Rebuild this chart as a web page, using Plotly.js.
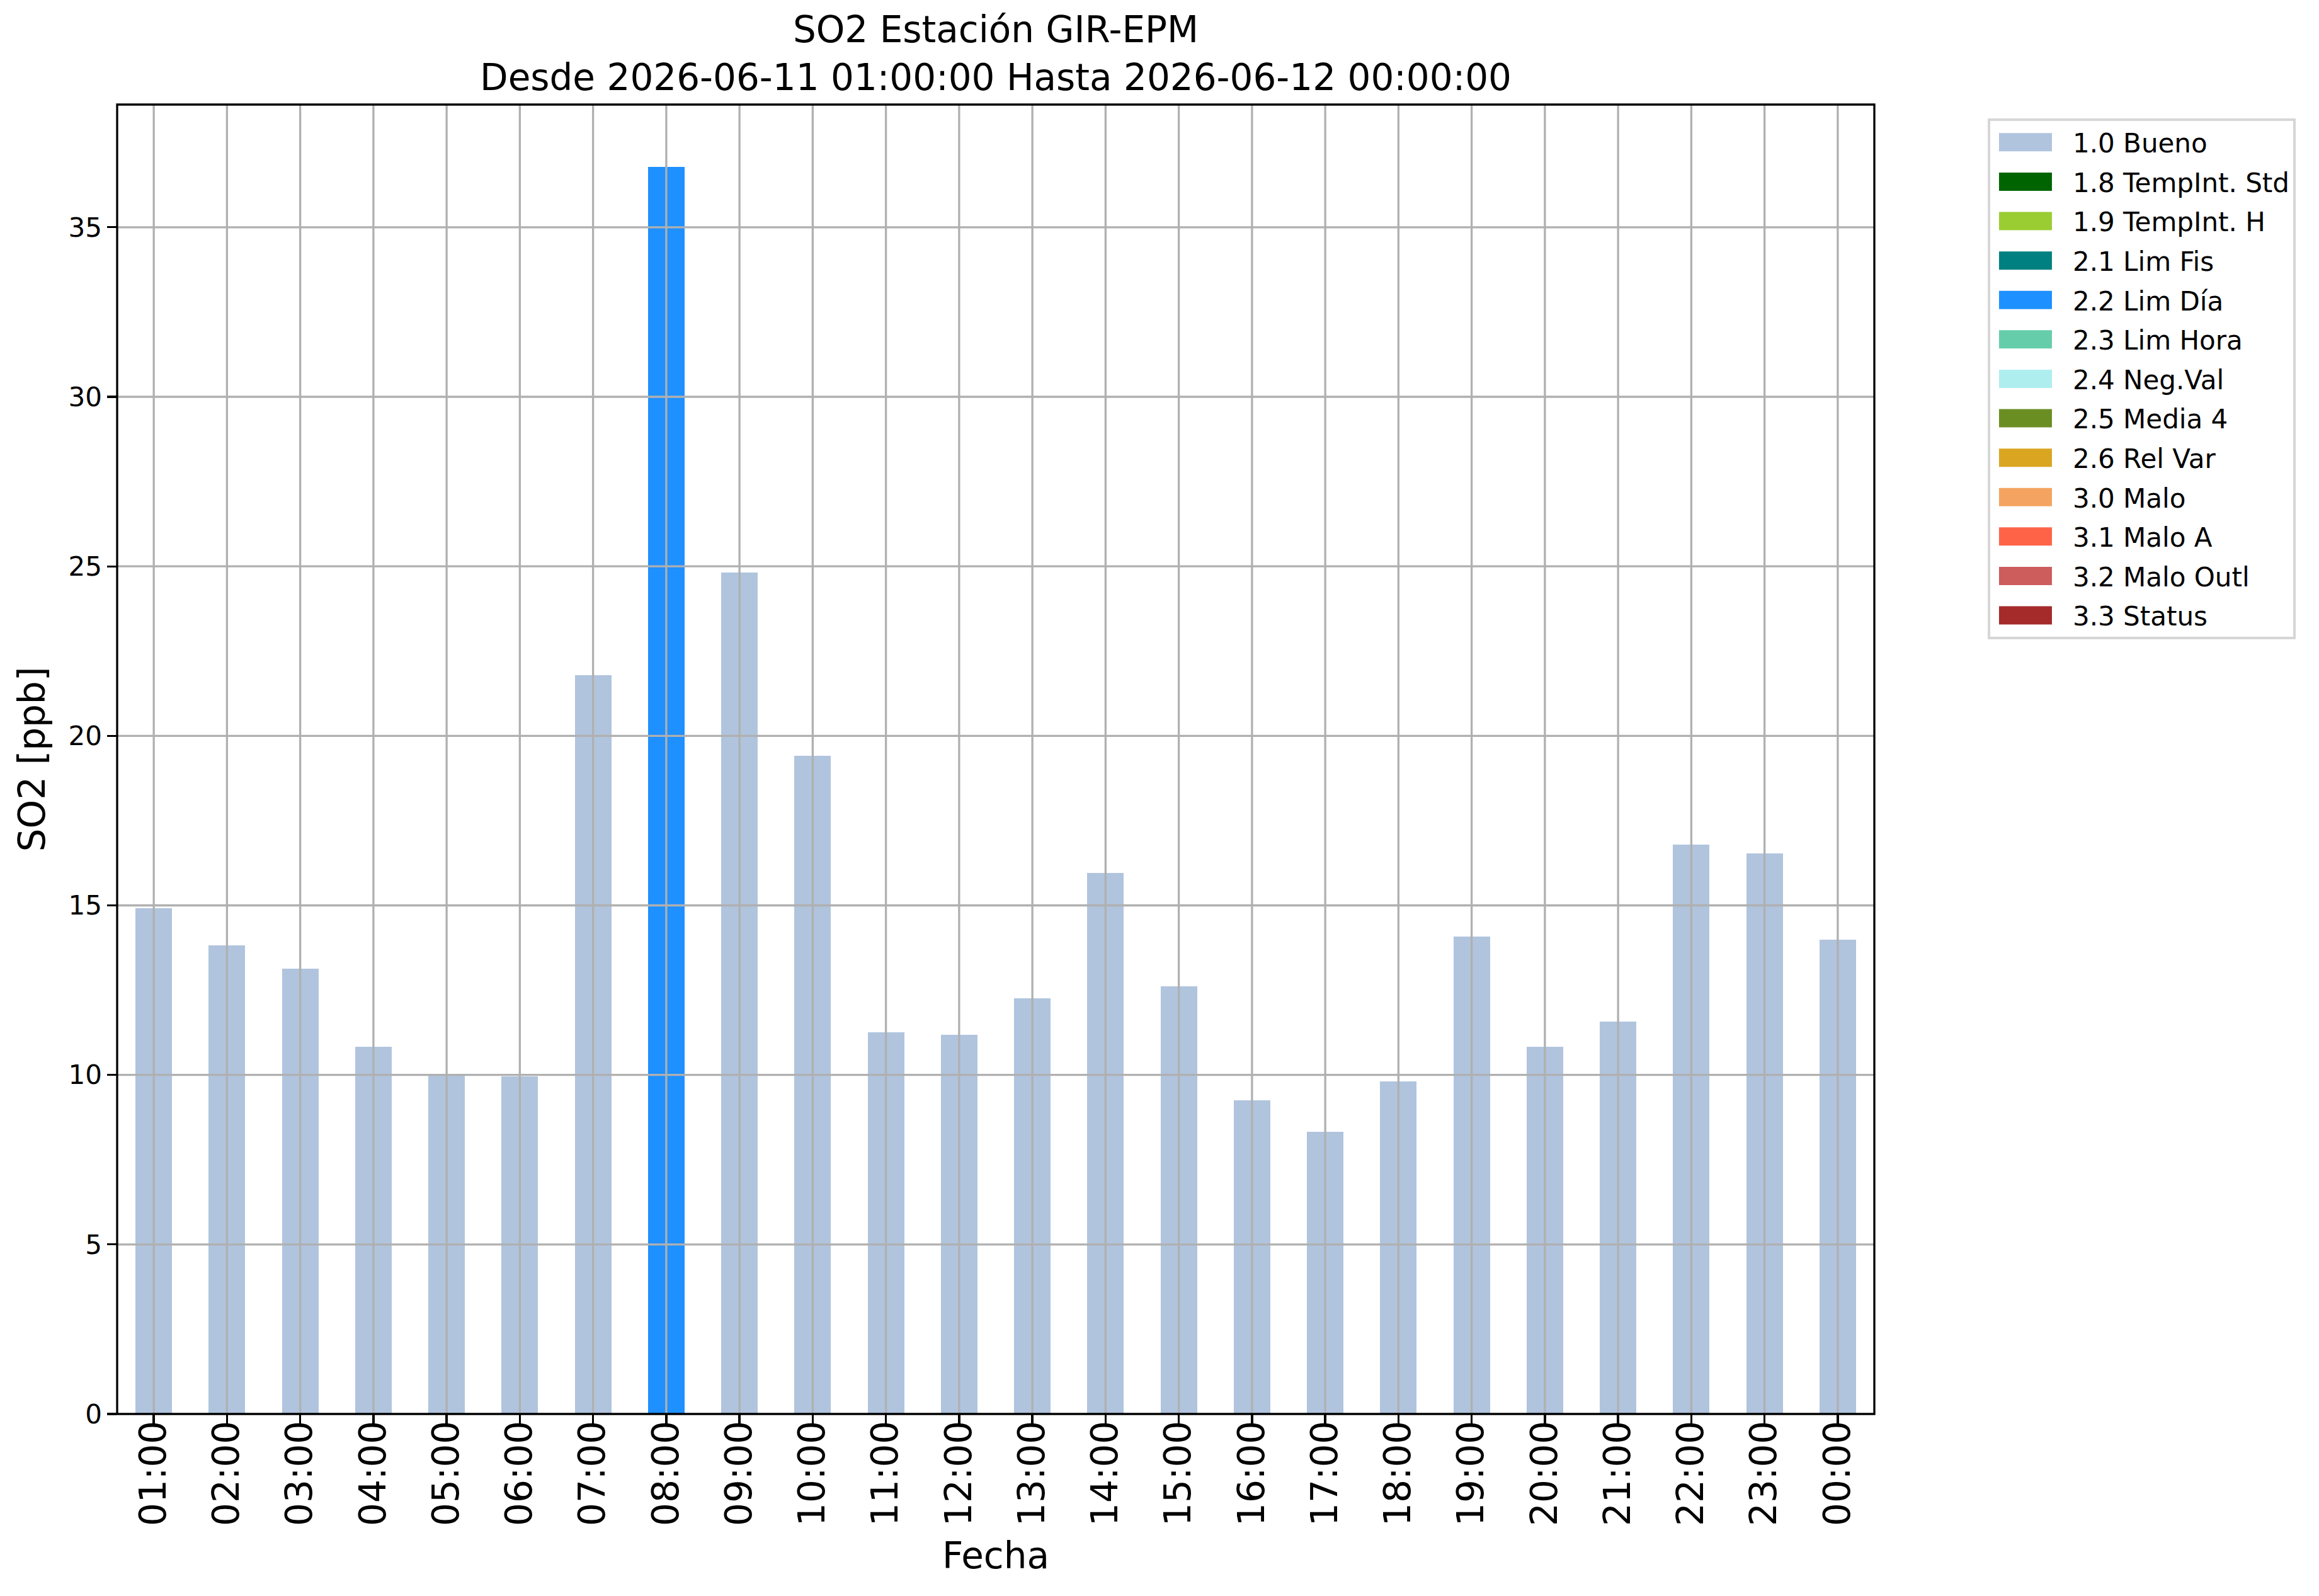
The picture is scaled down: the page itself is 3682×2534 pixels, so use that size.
<!DOCTYPE html>
<html>
<head>
<meta charset="utf-8">
<script src="https://cdn.plot.ly/plotly-3.0.1.min.js"></script>
<style>
  html, body { margin: 0; padding: 0; background: #fff; }
  #chart { width: 3682px; height: 2534px; }
</style>
</head>
<body>
<div id="chart"></div>
<script>
// hourly SO2 values
let hours = ["01:00", "02:00", "03:00", "04:00", "05:00", "06:00", "07:00", "08:00",
             "09:00", "10:00", "11:00", "12:00", "13:00", "14:00", "15:00", "16:00",
             "17:00", "18:00", "19:00", "20:00", "21:00", "22:00", "23:00", "00:00"];
let so2 = [14.91, 13.82, 13.13, 10.83, 10.0, 9.96, 21.79, 36.78,
           24.81, 19.41, 11.25, 11.18, 12.26, 15.96, 12.61, 9.25,
           8.32, 9.81, 14.08, 10.83, 11.57, 16.79, 16.54, 13.99];
// validation flag of each hour
let flags = ["1.0 Bueno", "1.0 Bueno", "1.0 Bueno", "1.0 Bueno", "1.0 Bueno", "1.0 Bueno",
             "1.0 Bueno", "2.2 Lim Día", "1.0 Bueno", "1.0 Bueno", "1.0 Bueno", "1.0 Bueno",
             "1.0 Bueno", "1.0 Bueno", "1.0 Bueno", "1.0 Bueno", "1.0 Bueno", "1.0 Bueno",
             "1.0 Bueno", "1.0 Bueno", "1.0 Bueno", "1.0 Bueno", "1.0 Bueno", "1.0 Bueno"];

let flag_names = ["1.0 Bueno", "1.8 TempInt. Std", "1.9 TempInt. H", "2.1 Lim Fis",
                  "2.2 Lim Día", "2.3 Lim Hora", "2.4 Neg.Val", "2.5 Media 4",
                  "2.6 Rel Var", "3.0 Malo", "3.1 Malo A", "3.2 Malo Outl", "3.3 Status"];
let flag_colors = ["#B0C4DE", "#006400", "#9ACD32", "#008080", "#1E90FF", "#66CDAA",
                   "#AFEEEE", "#6B8E23", "#DAA520", "#F4A460", "#FF6347", "#CD5C5C", "#A52A2A"];

let y_ticks = [0, 5, 10, 15, 20, 25, 30, 35];

const FONT = "DejaVu Sans";
const GRID = "#b0b0b0";

let data = flag_names.map((name, i) => ({
  x: hours,
  y: so2.map((v, k) => flags[k] === name ? v : null),
  name: name,
  legendgroup: name,
  type: "bar",
  width: 0.5,
  marker: {color: flag_colors[i], line: {width: 0}},
  showlegend: true,
}));

// matplotlib draws the grid over the bars, so use shapes above traces
let shapes = [];
y_ticks.filter(v => v > 0).forEach(v => shapes.push({
  type: "line", layer: "above", xref: "paper", yref: "y",
  x0: 0, x1: 1, y0: v, y1: v,
  line: {color: GRID, width: 3.3},
}));
hours.forEach(h => shapes.push({
  type: "line", layer: "above", xref: "x", yref: "paper",
  x0: h, x1: h, y0: 0, y1: 1,
  line: {color: GRID, width: 3.3},
}));
shapes.push({
  type: "rect", layer: "above", xref: "paper", yref: "paper",
  x0: 0, x1: 1, y0: 0, y1: 1,
  line: {color: "#000", width: 3.3},
});

let layout = {
  width: 3682,
  height: 2534,
  margin: {l: 186, r: 706, t: 166, b: 289},
  paper_bgcolor: "#fff",
  plot_bgcolor: "#fff",
  font: {family: FONT, color: "#000"},
  barmode: "overlay",
  title: {
    text: "SO2 Estación GIR-EPM<br>Desde 2026-06-11 01:00:00 Hasta 2026-06-12 00:00:00",
    font: {family: FONT, size: 58, color: "#000"},
    xref: "paper", x: 0.5, xanchor: "center",
    yref: "container", y: 0.9735, yanchor: "top",
  },
  xaxis: {
    type: "category",
    range: [-0.5, hours.length - 0.5],
    showgrid: false,
    zeroline: false,
    showline: false,
    ticks: "outside",
    ticklen: 14.6,
    tickwidth: 3.3,
    tickcolor: "#000",
    tickangle: -90,
    ticklabelstandoff: -28,
    tickfont: {family: FONT, size: 58, color: "#000"},
    title: {text: "Fecha", font: {family: FONT, size: 58, color: "#000"}, standoff: 27},
    automargin: false,
  },
  yaxis: {
    range: [0, Math.max(...so2) * 1.05],
    tickmode: "array",
    tickvals: y_ticks,
    ticktext: y_ticks.map(String),
    showgrid: false,
    zeroline: false,
    showline: false,
    ticks: "outside",
    ticklen: 14.6,
    tickwidth: 3.3,
    tickcolor: "#000",
    tickfont: {family: FONT, size: 42, color: "#000"},
    title: {text: "SO2 [ppb]", font: {family: FONT, size: 58, color: "#000"}, standoff: 18},
    automargin: false,
  },
  legend: {
    x: 1.0645, xanchor: "left",
    y: 0.9894, yanchor: "top",
    bgcolor: "#fff",
    bordercolor: "#d6d6d6",
    borderwidth: 4,
    font: {family: FONT, size: 42, color: "#000"},
    traceorder: "grouped",
    tracegroupgap: 5,
    itemwidth: 121,
    entrywidth: 360,
  },
  shapes: shapes,
  bargap: 0,
};

Plotly.newPlot("chart", data, layout, {
  displaylogo: false,
  displayModeBar: false,
  staticPlot: true,
}).then(gd => {
  // widen the legend patches to matplotlib's flat rectangles
  let bg = gd.querySelector(".legend .bg");
  if (!bg) return;
  let boxLeft = bg.getBoundingClientRect().left;
  gd.querySelectorAll(".legend .legendpoints path").forEach(p => {
    let r = p.getBoundingClientRect();
    let shift = (boxLeft + 16) - r.left;
    let x0 = -6 + shift, x1 = x0 + 84;
    p.setAttribute("d", `M${x1},14.5H${x0}V-14.5H${x1}Z`);
  });
});
</script>
</body>
</html>
